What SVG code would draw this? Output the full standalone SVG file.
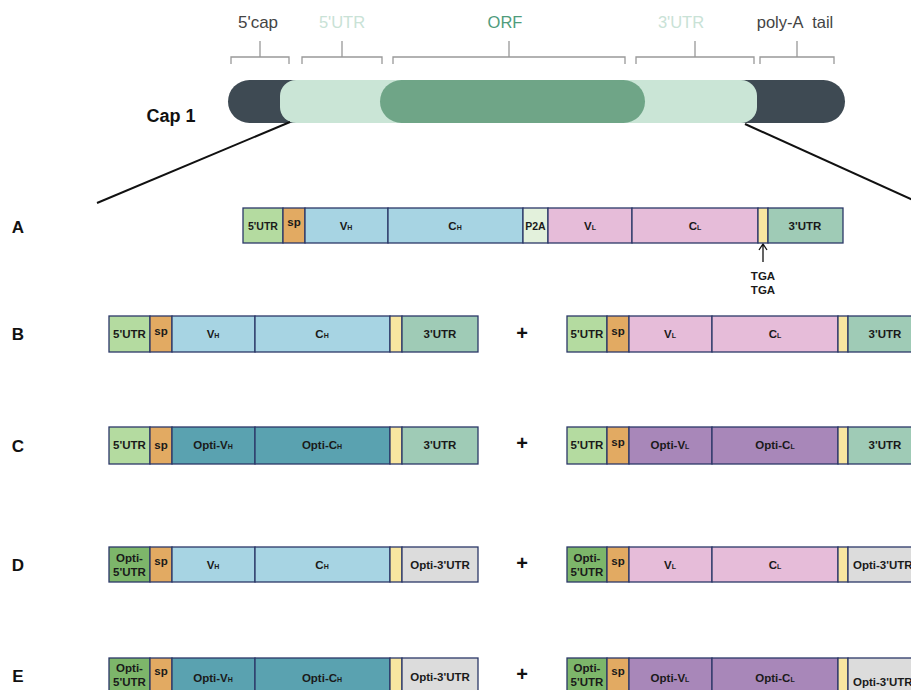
<svg xmlns="http://www.w3.org/2000/svg" width="911" height="690" viewBox="0 0 911 690">
<style>
.seg{stroke:#2b3868;stroke-width:1.3}
.t{font-family:"Liberation Sans",Arial,sans-serif;font-weight:bold;font-size:11.5px;fill:#1a1a1a;text-anchor:middle}
.lbl{font-family:"Liberation Sans",Arial,sans-serif;font-weight:bold;font-size:17px;fill:#111;text-anchor:middle}
.plus{font-family:"Liberation Sans",Arial,sans-serif;font-weight:bold;font-size:20px;fill:#111;text-anchor:middle}
.top{font-family:"Liberation Sans",Arial,sans-serif;font-size:16.5px;text-anchor:middle}
.br{fill:none;stroke:#999;stroke-width:1.3}
.utr5{fill:#b4dba0}.outr5{fill:#7db66a}.sp{fill:#e2aa62}.h{fill:#a7d4e3}.oh{fill:#5aa2b0}
.l{fill:#e6bcd9}.ol{fill:#a887b9}.y{fill:#f8e6a0}.utr3{fill:#9fcbb6}.outr3{fill:#dcdcdc}.p2a{fill:#e3f1dc}
.sub{font-size:7px}
</style>
<rect width="911" height="690" fill="#fff"/>
<g id="mrna">
<text class="top" x="258" y="28" fill="#444" style="font-size:17px">5'cap</text>
<text class="top" x="342" y="28" fill="#c9e2d6">5'UTR</text>
<text class="top" x="505" y="28" fill="#4f9c7c">ORF</text>
<text class="top" x="681" y="28" fill="#c9e2d6">3'UTR</text>
<text class="top" x="795" y="28" fill="#444" style="word-spacing:5px">poly-A tail</text>
<path class="br" d="M231,64 V57 H289 V64 M260,57 V41"/>
<path class="br" d="M302,64 V57 H382 V64 M342,57 V41"/>
<path class="br" d="M393,64 V57 H625 V64 M509,57 V41"/>
<path class="br" d="M636,64 V57 H754 V64 M695,57 V41"/>
<path class="br" d="M760,64 V57 H834 V64 M797,57 V41"/>
<rect x="228" y="80" width="617" height="43" rx="21.5" fill="#3e4a53"/>
<rect x="280" y="80" width="477" height="43" rx="16" fill="#cae5d6"/>
<rect x="380" y="80" width="265" height="43" rx="21.5" fill="#6fa587"/>
<text class="lbl" x="171" y="122" style="font-size:18px">Cap 1</text>
</g>
<g id="connectors" stroke="#111" stroke-width="2" fill="none">
<line x1="290" y1="122" x2="97" y2="203"/>
<line x1="745" y1="124" x2="915" y2="201"/>
<path d="M763,262 V245 M759,250 L763,244 L767,250" stroke-width="1.3"/>
</g>
<g id="row-labels">
<text class="lbl" x="18" y="233">A</text>
<text class="lbl" x="18" y="340">B</text>
<text class="lbl" x="18" y="452">C</text>
<text class="lbl" x="18" y="571">D</text>
<text class="lbl" x="18" y="682">E</text>
<text class="plus" x="522" y="340">+</text>
<text class="plus" x="522" y="450">+</text>
<text class="plus" x="522" y="570">+</text>
<text class="plus" x="522" y="681">+</text>
</g>
<g id="rowA">
<rect class="seg utr5" x="243" y="208" width="40" height="35"/>
<rect class="seg sp" x="283" y="208" width="22" height="35"/>
<rect class="seg h" x="305" y="208" width="83" height="35"/>
<rect class="seg h" x="388" y="208" width="135" height="35"/>
<rect class="seg p2a" x="523" y="208" width="25" height="35"/>
<rect class="seg l" x="548" y="208" width="84" height="35"/>
<rect class="seg l" x="632" y="208" width="126" height="35"/>
<rect class="seg y" x="758" y="208" width="10" height="35"/>
<rect class="seg utr3" x="768" y="208" width="75" height="35"/>
<text class="t" x="263" y="230" style="font-size:10.5px">5'UTR</text>
<text class="t" x="294" y="226">sp</text>
<text class="t" x="346" y="230">V<tspan class="sub">H</tspan></text>
<text class="t" x="455" y="230">C<tspan class="sub">H</tspan></text>
<text class="t" x="535.5" y="230" style="font-size:10.5px">P2A</text>
<text class="t" x="590" y="230">V<tspan class="sub">L</tspan></text>
<text class="t" x="695" y="230">C<tspan class="sub">L</tspan></text>
<text class="t" x="805" y="230">3'UTR</text>
<text class="t" x="763" y="280">TGA</text>
<text class="t" x="763" y="294">TGA</text>
</g>
<g id="rowB-H">
<rect class="seg utr5" x="109" y="316" width="41" height="36"/>
<rect class="seg sp" x="150" y="316" width="22" height="36"/>
<rect class="seg h" x="172" y="316" width="83" height="36"/>
<rect class="seg h" x="255" y="316" width="135" height="36"/>
<rect class="seg y" x="390" y="316" width="12" height="36"/>
<rect class="seg utr3" x="402" y="316" width="76" height="36"/>
<text class="t" x="129.5" y="338">5'UTR</text>
<text class="t" x="161" y="335">sp</text>
<text class="t" x="213" y="338">V<tspan class="sub">H</tspan></text>
<text class="t" x="322" y="338">C<tspan class="sub">H</tspan></text>
<text class="t" x="440" y="338">3'UTR</text>
</g>
<g id="rowB-L">
<rect class="seg utr5" x="567" y="316" width="40" height="36"/>
<rect class="seg sp" x="607" y="316" width="22" height="36"/>
<rect class="seg l" x="629" y="316" width="83" height="36"/>
<rect class="seg l" x="712" y="316" width="126" height="36"/>
<rect class="seg y" x="838" y="316" width="10" height="36"/>
<rect class="seg utr3" x="848" y="316" width="80" height="36"/>
<text class="t" x="587" y="338">5'UTR</text>
<text class="t" x="618" y="335">sp</text>
<text class="t" x="670" y="338">V<tspan class="sub">L</tspan></text>
<text class="t" x="775" y="338">C<tspan class="sub">L</tspan></text>
<text class="t" x="885" y="338">3'UTR</text>
</g>
<g id="rowC-H">
<rect class="seg utr5" x="109" y="427" width="41" height="37"/>
<rect class="seg sp" x="150" y="427" width="22" height="37"/>
<rect class="seg oh" x="172" y="427" width="83" height="37"/>
<rect class="seg oh" x="255" y="427" width="135" height="37"/>
<rect class="seg y" x="390" y="427" width="12" height="37"/>
<rect class="seg utr3" x="402" y="427" width="76" height="37"/>
<text class="t" x="129.5" y="449">5'UTR</text>
<text class="t" x="161" y="449">sp</text>
<text class="t" x="213" y="449">Opti-V<tspan class="sub">H</tspan></text>
<text class="t" x="322" y="449">Opti-C<tspan class="sub">H</tspan></text>
<text class="t" x="440" y="449">3'UTR</text>
</g>
<g id="rowC-L">
<rect class="seg utr5" x="567" y="427" width="40" height="37"/>
<rect class="seg sp" x="607" y="427" width="22" height="37"/>
<rect class="seg ol" x="629" y="427" width="83" height="37"/>
<rect class="seg ol" x="712" y="427" width="126" height="37"/>
<rect class="seg y" x="838" y="427" width="10" height="37"/>
<rect class="seg utr3" x="848" y="427" width="80" height="37"/>
<text class="t" x="587" y="449">5'UTR</text>
<text class="t" x="618" y="446">sp</text>
<text class="t" x="670" y="449">Opti-V<tspan class="sub">L</tspan></text>
<text class="t" x="775" y="449">Opti-C<tspan class="sub">L</tspan></text>
<text class="t" x="885" y="449">3'UTR</text>
</g>
<g id="rowD-H">
<rect class="seg outr5" x="109" y="547" width="41" height="35"/>
<rect class="seg sp" x="150" y="547" width="22" height="35"/>
<rect class="seg h" x="172" y="547" width="83" height="35"/>
<rect class="seg h" x="255" y="547" width="135" height="35"/>
<rect class="seg y" x="390" y="547" width="12" height="35"/>
<rect class="seg outr3" x="402" y="547" width="76" height="35"/>
<text class="t" x="129.5" y="562">Opti-</text>
<text class="t" x="129.5" y="576">5'UTR</text>
<text class="t" x="161" y="565">sp</text>
<text class="t" x="213" y="569">V<tspan class="sub">H</tspan></text>
<text class="t" x="322" y="569">C<tspan class="sub">H</tspan></text>
<text class="t" x="440" y="569">Opti-3'UTR</text>
</g>
<g id="rowD-L">
<rect class="seg outr5" x="567" y="547" width="40" height="35"/>
<rect class="seg sp" x="607" y="547" width="22" height="35"/>
<rect class="seg l" x="629" y="547" width="83" height="35"/>
<rect class="seg l" x="712" y="547" width="126" height="35"/>
<rect class="seg y" x="838" y="547" width="10" height="35"/>
<rect class="seg outr3" x="848" y="547" width="80" height="35"/>
<text class="t" x="587" y="562">Opti-</text>
<text class="t" x="587" y="576">5'UTR</text>
<text class="t" x="618" y="565">sp</text>
<text class="t" x="670" y="569">V<tspan class="sub">L</tspan></text>
<text class="t" x="775" y="569">C<tspan class="sub">L</tspan></text>
<text class="t" x="853" y="569" style="text-anchor:start">Opti-3'UTR</text>
</g>
<g id="rowE-H">
<rect class="seg outr5" x="109" y="658" width="41" height="40"/>
<rect class="seg sp" x="150" y="658" width="22" height="40"/>
<rect class="seg oh" x="172" y="658" width="83" height="40"/>
<rect class="seg oh" x="255" y="658" width="135" height="40"/>
<rect class="seg y" x="390" y="658" width="12" height="40"/>
<rect class="seg outr3" x="402" y="658" width="76" height="40"/>
<text class="t" x="129.5" y="672">Opti-</text>
<text class="t" x="129.5" y="686">5'UTR</text>
<text class="t" x="161" y="675">sp</text>
<text class="t" x="213" y="682">Opti-V<tspan class="sub">H</tspan></text>
<text class="t" x="322" y="682">Opti-C<tspan class="sub">H</tspan></text>
<text class="t" x="440" y="681">Opti-3'UTR</text>
</g>
<g id="rowE-L">
<rect class="seg outr5" x="567" y="658" width="40" height="40"/>
<rect class="seg sp" x="607" y="658" width="22" height="40"/>
<rect class="seg ol" x="629" y="658" width="83" height="40"/>
<rect class="seg ol" x="712" y="658" width="126" height="40"/>
<rect class="seg y" x="838" y="658" width="10" height="40"/>
<rect class="seg outr3" x="848" y="658" width="80" height="40"/>
<text class="t" x="587" y="672">Opti-</text>
<text class="t" x="587" y="686">5'UTR</text>
<text class="t" x="618" y="675">sp</text>
<text class="t" x="670" y="682">Opti-V<tspan class="sub">L</tspan></text>
<text class="t" x="775" y="682">Opti-C<tspan class="sub">L</tspan></text>
<text class="t" x="853" y="686" style="text-anchor:start">Opti-3'UTR</text>
</g>
</svg>
